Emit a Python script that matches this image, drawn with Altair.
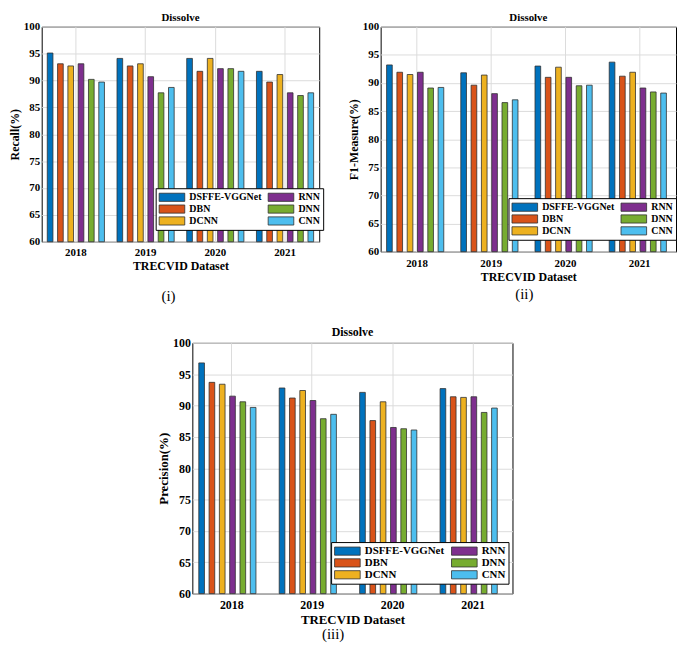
import altair as alt
import pandas as pd

years = ["2018", "2019", "2020", "2021"]
methods = ["DSFFE-VGGNet", "DBN", "DCNN", "RNN", "DNN", "CNN"]
colors = ["#0072BD", "#D95319", "#EDB120", "#7E2F8E", "#77AC30", "#4DBEEE"]

recall = {
    "DSFFE-VGGNet": [95.1, 94.1, 94.1, 91.7],
    "DBN": [93.1, 92.7, 91.7, 89.7],
    "DCNN": [92.7, 93.1, 94.1, 91.1],
    "RNN": [93.1, 90.7, 92.2, 87.7],
    "DNN": [90.2, 87.7, 92.2, 87.2],
    "CNN": [89.7, 88.7, 91.7, 87.7],
}
f1 = {
    "DSFFE-VGGNet": [93.2, 91.8, 93.0, 93.7],
    "DBN": [91.9, 89.6, 91.0, 91.2],
    "DCNN": [91.5, 91.4, 92.8, 91.9],
    "RNN": [91.9, 88.1, 91.0, 89.1],
    "DNN": [89.1, 86.5, 89.5, 88.4],
    "CNN": [89.2, 87.0, 89.6, 88.2],
}
precision = {
    "DSFFE-VGGNet": [96.8, 92.8, 92.1, 92.7],
    "DBN": [93.7, 91.2, 87.6, 91.4],
    "DCNN": [93.4, 92.4, 90.6, 91.3],
    "RNN": [91.5, 90.8, 86.5, 91.4],
    "DNN": [90.6, 87.9, 86.3, 88.9],
    "CNN": [89.7, 88.6, 86.1, 89.6],
}

FONT = "Liberation Serif"
SYMBOL = "M-1,-0.75H3.7V0.75H-1Z"


def panel(values, ytitle, tag, w, h, fs, leg_xy, leg_fs, tag_xy, xlab_pad, title_offset):
    rows = []
    for m in methods:
        for yr, v in zip(years, values[m]):
            rows.append({"Year": yr, "Method": m, "Value": v})
    df = pd.DataFrame(rows)
    bars = alt.Chart(df).mark_bar(stroke="#303030", strokeWidth=0.8).encode(
        x=alt.X(
            "Year:N", sort=years,
            scale=alt.Scale(paddingInner=0.18, paddingOuter=0.08),
            axis=alt.Axis(
                title="TRECVID Dataset", grid=True, ticks=False, domain=False,
                labelAngle=0, labelPadding=xlab_pad, labelFontSize=fs, labelFontWeight="bold",
                titleFontSize=fs + 1, titleFontWeight="bold", titlePadding=3,
            ),
        ),
        xOffset=alt.XOffset("Method:N", sort=methods, scale=alt.Scale(paddingInner=0.45)),
        y=alt.Y(
            "Value:Q",
            scale=alt.Scale(domain=[60, 100], nice=False, zero=False),
            axis=alt.Axis(
                title=ytitle, values=list(range(60, 101, 5)), grid=True, ticks=False,
                domain=False, labelPadding=2, labelFontSize=fs, labelFontWeight="bold",
                titleFontSize=fs + 1, titleFontWeight="bold", titlePadding=2,
            ),
        ),
        y2=alt.datum(60),
        color=alt.Color(
            "Method:N",
            scale=alt.Scale(domain=methods, range=colors),
            legend=alt.Legend(
                title=None, orient="none", legendX=leg_xy[0], legendY=leg_xy[1],
                columns=2, symbolType=SYMBOL, symbolSize=121,
                symbolStrokeColor="#303030", symbolStrokeWidth=0.8, symbolOpacity=1,
                labelFontSize=leg_fs, labelFontWeight="bold", labelOffset=19,
                rowPadding=0, columnPadding=4, padding=3,
                strokeColor="black", fillColor="white",
            ),
        ),
    )
    tag_df = pd.DataFrame({"t": [tag]})
    lab = alt.Chart(tag_df).mark_text(
        font=FONT, fontSize=15, color="black", align="center", baseline="middle"
    ).encode(text="t:N", x=alt.value(tag_xy[0]), y=alt.value(tag_xy[1]))
    return alt.layer(bars, lab).properties(
        width=w, height=h,
        title=alt.Title("Dissolve", fontSize=fs, fontWeight="bold", offset=title_offset, font=FONT),
    )


p1 = panel(recall, "Recall(%)", "(i)", 280, 217, 11, (115, 163), 10, (128, 272), 5, -2)
p2 = panel(f1, "F1-Measure(%)", "(ii)", 298, 227, 11, (129, 173), 10, (145, 270), 6, -2)
p3 = panel(precision, "Precision(%)", "(iii)", 323, 253, 12, (140, 201), 11, (142, 294), 6, -2)

spacer = alt.Chart(pd.DataFrame({"t": [""]})).mark_text().encode(text="t:N").properties(
    width=96, height=1, view=alt.ViewBackground(strokeOpacity=0)
)

top = alt.hconcat(p1, p2, spacing=23).resolve_scale(color="independent").resolve_legend(color="independent")
bottom = alt.hconcat(spacer, p3, spacing=20).resolve_scale(color="independent").resolve_legend(color="independent")
chart = alt.vconcat(top, bottom, spacing=20).resolve_scale(color="independent").resolve_legend(
    color="independent"
).properties(padding=0).configure(font=FONT).configure_view(
    stroke="black", strokeWidth=1
).configure_axis(
    labelColor="black", titleColor="black", gridColor="#dcdcdc", labelFont=FONT, titleFont=FONT
).configure_legend(labelColor="black", labelFont=FONT).configure_title(color="black")

chart.save("out.html", embed_options={"renderer": "svg", "actions": False})
